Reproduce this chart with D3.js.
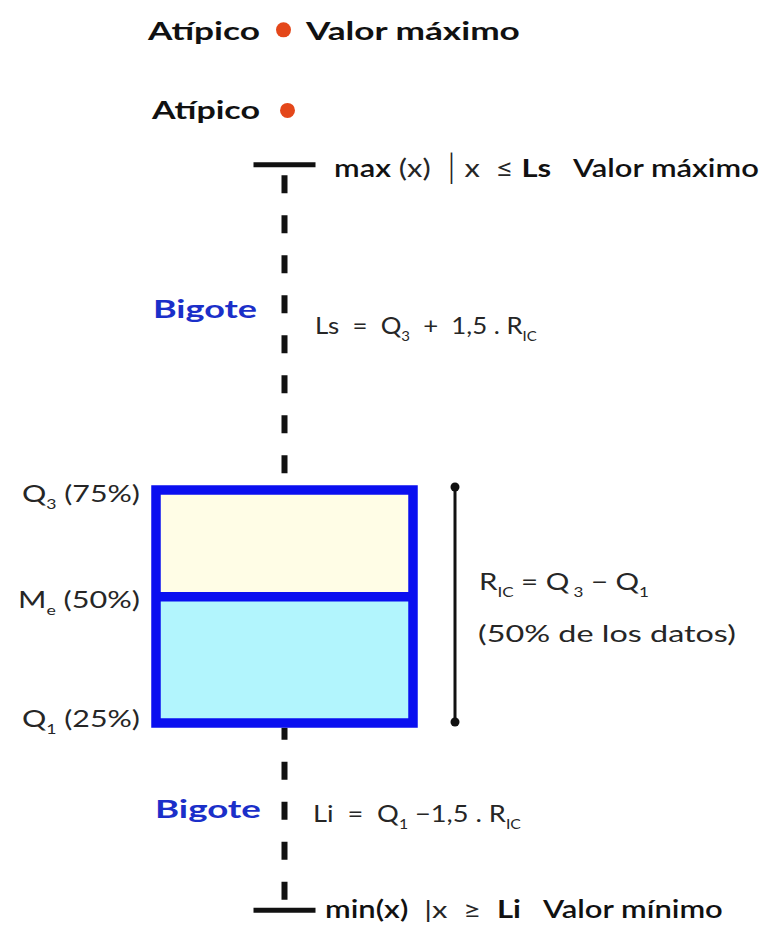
<!DOCTYPE html>
<html>
<head>
<meta charset="utf-8">
<script src="https://cdn.jsdelivr.net/npm/d3@7"></script>
<style>
  body { margin: 0; background: #fff; }
  text { font-family: Lato, "Open Sans", sans-serif; fill: #262626; white-space: pre; }
</style>
</head>
<body>
<svg width="761" height="925"></svg>
<script>
// values (arbitrary units, Q1 .. Q3 is the box)
const quartileNames = ["Q1", "Me", "Q3"]
const quartileValues = [28, 41, 52]
const whiskerNames = ["min", "max"]
const whiskerValues = [8.7, 85.5]
const outlierValues = [91.1, 99.4]

const svg = d3.select("svg")

let y = d3.scaleLinear().domain([quartileValues[0], quartileValues[2]]).range([723, 490])
let x = d3.scaleLinear().domain([0, 1]).range([156, 413])
const cx = x(0.5)
const boxStroke = 9.5

// writes a label made of pieces: "b" bold, "m" semibold, "s" subscript, "t" tall bar
function label(segs, left, base, width, size, color) {
  let t = svg.append("text").attr("font-size", size)
  if (color) t.style("fill", color)
  let shift = 0
  segs.forEach(([s, st]) => {
    let ts = t.append("tspan").text(s)
    let want = st.includes("s") ? size * 0.28 : st.includes("t") ? size * 0.06 : 0
    ts.attr("dy", want - shift)
    shift = want
    if (st.includes("s")) ts.attr("font-size", size * 0.58)
    if (st.includes("t")) ts.attr("font-size", size * 1.35).attr("font-weight", 300)
    if (st.includes("b")) ts.attr("font-weight", 700).style("fill", color || "#111")
    if (st.includes("m")) ts.attr("font-weight", 600).style("fill", color || "#111")
  })
  let w = t.node().getComputedTextLength()
  t.attr("transform", "translate(" + left + "," + base + ") scale(" + (width / w) + ",1)")
}

// whiskers (dashed), drawn from the box edge out to the caps
let yMax = y(whiskerValues[1]), yMin = y(whiskerValues[0])
svg.append("line")
  .attr("x1", cx).attr("x2", cx)
  .attr("y1", y(quartileValues[2]) - boxStroke / 2).attr("y2", yMax)
  .attr("stroke", "#111").attr("stroke-width", 6)
  .attr("stroke-dasharray", "18,22").attr("stroke-dashoffset", 28)
svg.append("line")
  .attr("x1", cx).attr("x2", cx)
  .attr("y1", y(quartileValues[0]) + boxStroke / 2).attr("y2", yMin)
  .attr("stroke", "#111").attr("stroke-width", 6)
  .attr("stroke-dasharray", "18,22").attr("stroke-dashoffset", 6)

svg.selectAll(".cap")
  .data(whiskerValues)
  .enter().append("line")
  .attr("class", "cap")
  .attr("x1", cx - 31).attr("x2", cx + 31)
  .attr("y1", d => y(d)).attr("y2", d => y(d))
  .attr("stroke", "#111").attr("stroke-width", 5)

// box halves
svg.append("rect")
  .attr("x", x(0)).attr("width", x(1) - x(0))
  .attr("y", y(quartileValues[2])).attr("height", y(quartileValues[1]) - y(quartileValues[2]))
  .attr("fill", "#fffde6")
svg.append("rect")
  .attr("x", x(0)).attr("width", x(1) - x(0))
  .attr("y", y(quartileValues[1])).attr("height", y(quartileValues[0]) - y(quartileValues[1]))
  .attr("fill", "#b2f5fd")
svg.append("rect")
  .attr("x", x(0)).attr("width", x(1) - x(0))
  .attr("y", y(quartileValues[2])).attr("height", y(quartileValues[0]) - y(quartileValues[2]))
  .attr("fill", "none").attr("stroke", "#0a0ff0").attr("stroke-width", boxStroke)
svg.append("line")
  .attr("x1", x(0)).attr("x2", x(1))
  .attr("y1", y(quartileValues[1])).attr("y2", y(quartileValues[1]))
  .attr("stroke", "#0a0ff0").attr("stroke-width", boxStroke)

// outliers
svg.selectAll(".out")
  .data(outlierValues)
  .enter().append("circle")
  .attr("class", "out")
  .attr("cx", (d, i) => cx + (i == 0 ? 3 : -1))
  .attr("cy", d => y(d))
  .attr("r", 7.5)
  .attr("fill", "#e4471a")

// interquartile bracket
let bx = 455
svg.append("line")
  .attr("x1", bx).attr("x2", bx)
  .attr("y1", y(quartileValues[2]) - 3).attr("y2", y(quartileValues[0]) - 1)
  .attr("stroke", "#111").attr("stroke-width", 3)
svg.selectAll(".end")
  .data([quartileValues[2], quartileValues[0]])
  .enter().append("circle")
  .attr("class", "end")
  .attr("cx", bx).attr("cy", (d, i) => y(d) + (i == 0 ? -3 : -1))
  .attr("r", 4.5).attr("fill", "#111")

// texts
const blue = "#1b2fc9"
label([["Atípico", "b"]], 148, y(outlierValues[1]) + 10, 112, 25)
label([["Valor máximo", "b"]], 306, y(outlierValues[1]) + 10, 214, 25)
label([["Atípico", "b"]], 152, y(outlierValues[0]) + 9, 108, 25)

label([["max", "m"], [" (x)  ", ""], ["|", "t"], [" x  ≤ ", ""], ["Ls", "b"], ["   Valor máximo", "m"]],
  334, yMax + 12, 425, 25)
label([["Bigote", "b"]], 153, 318, 104, 25, blue)
label([["Ls  =  Q", ""], ["3", "s"], ["  +  1,5 . R", ""], ["IC", "s"]], 315, 334, 222, 24)

label([["Q", ""], ["3", "s"], [" (75%)", ""]], 22, y(quartileValues[2]) + 12, 118, 24)
label([["M", ""], ["e", "s"], [" (50%)", ""]], 18, y(quartileValues[1]) + 11, 122, 24)
label([["Q", ""], ["1", "s"], [" (25%)", ""]], 22, y(quartileValues[0]) + 4, 118, 24)

label([["R", ""], ["IC", "s"], [" = Q", ""], [" 3", "s"], [" − Q", ""], ["1", "s"]], 479, 590, 170, 24)
label([["(50% de los datos)", ""]], 478, 642, 258, 24)

label([["Bigote", "b"]], 155, 818, 106, 25, blue)
label([["Li  =  Q", ""], ["1", "s"], [" −1,5 . R", ""], ["IC", "s"]], 313, 822, 208, 24)

label([["min(x)", "m"], ["  |", ""], ["x  ≥  ", ""], ["Li", "b"], ["   Valor mínimo", "m"]],
  325, yMin + 8, 398, 24)
</script>
</body>
</html>
